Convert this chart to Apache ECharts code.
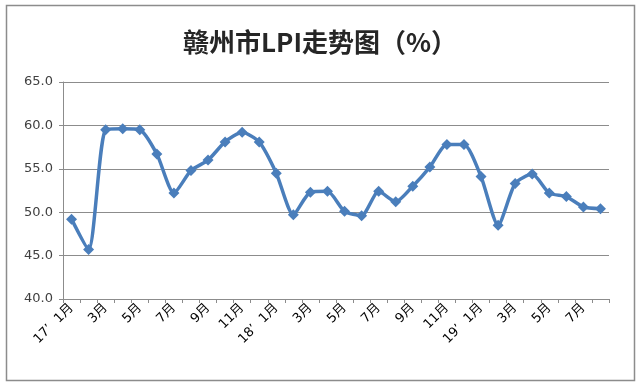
<!DOCTYPE html>
<html>
<head>
<meta charset="utf-8">
<script src="https://cdn.jsdelivr.net/npm/echarts@6/dist/echarts.min.js"></script>
<style>html,body{margin:0;padding:0;background:#fff}#c{width:640px;height:386px}</style>
</head>
<body>
<div id="c"></div>
<script>
const titleText = '赣州市LPI走势图（%）';
const categories = [
  '17’  1月','2月','3月','4月','5月','6月','7月','8月','9月','10月','11月','12月',
  '18’  1月','2月','3月','4月','5月','6月','7月','8月','9月','10月','11月','12月',
  '19’  1月','2月','3月','4月','5月','6月','7月','8月'
];
const lpiValues = [
  49.2, 45.7, 59.5, 59.6, 59.5, 56.7, 52.2, 54.8, 56.0, 58.1, 59.2, 58.1,
  54.5, 49.7, 52.3, 52.4, 50.1, 49.6, 52.4, 51.2, 53.0, 55.2, 57.8, 57.8,
  54.1, 48.5, 53.3, 54.4, 52.2, 51.8, 50.6, 50.4
];
const yTicks = [40, 45, 50, 55, 60, 65];

const chart = echarts.init(document.getElementById('c'));
chart.setOption({
  animation: false,
  backgroundColor: '#fff',
  graphic: [{
    type: 'rect', shape: {x: 6.5, y: 5.5, width: 628, height: 375},
    style: {fill: 'none', stroke: '#8c8c8c', lineWidth: 1.5}, silent: true
  }],
  title: {
    text: titleText, left: 'center', top: 24,
    textStyle: {fontSize: 26, fontWeight: 'bold', color: '#262626', fontFamily: 'Noto Sans CJK SC'}
  },
  grid: {left: 63, right: 31, top: 82, bottom: 87, containLabel: false},
  xAxis: {
    type: 'category', data: categories, boundaryGap: true,
    axisLine: {lineStyle: {color: '#8c8c8c', width: 1}},
    axisTick: {show: true, interval: 0, length: 4, lineStyle: {color: '#8c8c8c'}},
    axisLabel: {interval: 1, rotate: 45, fontSize: 13, color: '#000', margin: 7,
      fontFamily: 'DejaVu Sans, Noto Sans CJK SC'},
    splitLine: {show: false}
  },
  yAxis: {
    type: 'value', min: yTicks[0], max: yTicks[yTicks.length - 1], interval: 5,
    axisLine: {show: true, lineStyle: {color: '#8c8c8c', width: 1}},
    axisTick: {show: true, length: 4, lineStyle: {color: '#8c8c8c'}},
    axisLabel: {fontSize: 13, color: '#404040', margin: 10, fontFamily: 'DejaVu Sans',
      formatter: v => v.toFixed(1)},
    splitLine: {show: true, lineStyle: {color: '#8c8c8c', width: 1.2}}
  },
  series: [{
    type: 'line', data: lpiValues, smooth: 0.22,
    symbol: 'diamond', symbolSize: 11, showSymbol: true,
    lineStyle: {color: '#4a7ebb', width: 3.5},
    itemStyle: {color: '#4a7ebb'}
  }]
});
</script>
</body>
</html>
